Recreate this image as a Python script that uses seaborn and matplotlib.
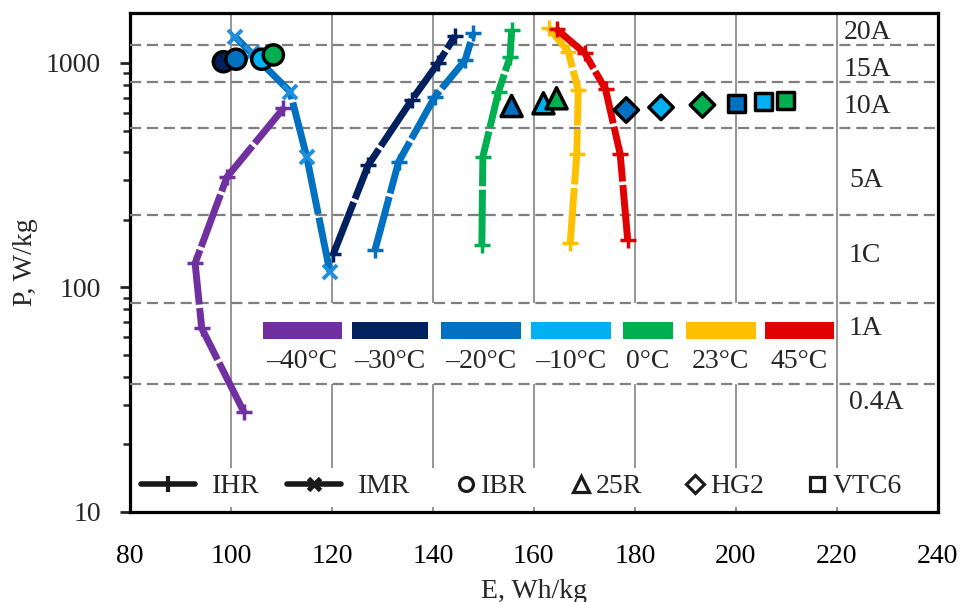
import matplotlib
matplotlib.use('Agg')
import matplotlib.pyplot as plt
from matplotlib.lines import Line2D
from matplotlib.patches import Rectangle
from matplotlib.ticker import NullFormatter
import pandas as pd
import seaborn as sns

# Temperatures and their colours.
temps = ['–40°C', '–30°C', '–20°C', '–10°C', '0°C', '23°C', '45°C']
temp_colors = ['#7030A0', '#002060', '#0070C0', '#00B0F0', '#00B050', '#FFC000', '#E00000']

# IHR cells: one rate curve per temperature (E in Wh/kg, P in W/kg).
ihr_temps = ['–40°C', '–30°C', '–20°C', '0°C', '23°C', '45°C']
ihr_e = [
    [102.6, 94.2, 92.9, 99.2, 110.4],
    [120.3, 127.2, 135.8, 141.1, 144.4],
    [128.5, 133.2, 140.4, 146.4, 148.0],
    [149.7, 149.9, 153.0, 155.3, 155.6],
    [167.2, 168.5, 168.8, 166.8, 163.0],
    [178.6, 177.1, 174.2, 170.1, 164.5],
]
ihr_p = [
    [27.7, 65.8, 128, 310, 628],
    [141, 351, 684, 1003, 1320],
    [146, 362, 707, 1031, 1358],
    [154, 382, 745, 1067, 1403],
    [157, 393, 758, 1123, 1430],
    [162, 393, 763, 1105, 1414],
]

# IMR cell, -20 C only.
imr_e = [119.6, 115.0, 111.7, 104.1, 100.8]
imr_p = [117, 382, 745, 1105, 1311]

# Single-point cells.
ibr_temps = ['–30°C', '–20°C', '–10°C', '0°C']
ibr_e = [98.5, 101.0, 106.1, 108.4]
ibr_p = [1013, 1039, 1039, 1086]

r25_temps = ['–20°C', '–10°C', '0°C']
r25_e = [155.6, 161.9, 164.5]
r25_p = [643, 661, 696]

hg2_temps = ['–20°C', '–10°C', '0°C']
hg2_e = [178.3, 185.2, 193.4]
hg2_p = [617, 634, 650]

vtc6_temps = ['–20°C', '–10°C', '0°C']
vtc6_e = [200.2, 205.5, 209.8]
vtc6_p = [661, 672, 679]

# Discharge rate bands.
rate_bounds = [1200, 825, 512, 210, 85, 37.2]
rate_labels = ['20A', '15A', '10A', '5A', '1C', '1A', '0.4A']
rate_label_p = [1361, 931, 638, 300, 139, 65.6, 30.8]

palette = dict(zip(temps, temp_colors))
FS = 20

sns.set_theme(style='white')
plt.rcParams['font.family'] = ['Liberation Serif', 'DejaVu Serif']

fig = plt.figure(figsize=(9.63, 6.02), dpi=100)
ax = fig.add_axes([0.135, 0.150, 0.8387, 0.8284])

dash = (0, (8, 0.5))

# IHR curves.
for t, e, p in zip(ihr_temps, ihr_e, ihr_p):
    df = pd.DataFrame({'E': e, 'P': p})
    sns.lineplot(data=df, x='E', y='P', sort=False, estimator=None, ax=ax,
                 color=palette[t], lw=5, linestyle=dash, marker='+',
                 ms=12, mew=2.5, mec=palette[t], zorder=4)

# IMR curve.
imr_df = pd.DataFrame({'E': imr_e, 'P': imr_p})
sns.lineplot(data=imr_df, x='E', y='P', sort=False, estimator=None, ax=ax,
             color='#0070C0', lw=5, linestyle=dash, marker='x',
             ms=10, mew=2.8, mec='#1F8FDC', zorder=4)

# Single points.
for t, e, p, m, s in [(ibr_temps, ibr_e, ibr_p, 'o', 210),
                      (r25_temps, r25_e, r25_p, '^', 230),
                      (hg2_temps, hg2_e, hg2_p, 'D', 155),
                      (vtc6_temps, vtc6_e, vtc6_p, 's', 155)]:
    sns.scatterplot(x=e, y=p, hue=t, palette=palette, marker=m, s=s,
                    edgecolor='black', linewidth=2.5, legend=False, ax=ax,
                    zorder=6)

ax.set_yscale('log')
ax.set_xlim(80, 240)
ax.set_ylim(10, 1670)

# Rate bands: dashed boundaries and labels on the right.
for b in rate_bounds:
    ax.axhline(b, color='#7f7f7f', lw=1.6, ls=(0, (5, 2.6)), zorder=3)
for lab, p in zip(rate_labels, rate_label_p):
    ax.text(221.3 if len(lab) == 3 else 222.4, p, lab, fontsize=FS,
            va='center', ha='left', zorder=3)

# Temperature colour key.
ax.add_patch(Rectangle((101.8, 37.2), 118.1, 85.1 - 37.2, facecolor='white',
                       edgecolor='none', zorder=1))
bar_edges = [(106.3, 121.9), (123.9, 139.1), (141.6, 157.4), (159.4, 175.3),
             (177.7, 187.6), (190.1, 204.0), (205.7, 219.5)]
for t, (x0, x1) in zip(temps, bar_edges):
    ax.add_patch(Rectangle((x0, 59.0), x1 - x0, 11.0, facecolor=palette[t],
                           edgecolor='none', zorder=2))
    ax.text((x0 + x1) / 2, 46.5, t, fontsize=FS, ha='center', va='center',
            zorder=2)

# Cell type key at the bottom.
ax.add_patch(Rectangle((0.005, 0.0094), 0.99, 0.0782, transform=ax.transAxes,
                       facecolor='white', edgecolor='none', zorder=1))
line_handles = [
    Line2D([], [], color='k', lw=4, marker='+', ms=12, mew=3),
    Line2D([], [], color='k', lw=4, marker='x', ms=9, mew=3.5),
]
leg1 = ax.legend(line_handles, ['IHR', 'IMR'], ncol=2, loc='center left',
                 bbox_to_anchor=(0.0136, 0.050), frameon=False, fontsize=FS,
                 handlelength=1.94, handletextpad=0.61, columnspacing=0.99,
                 borderpad=0, borderaxespad=0)
ax.add_artist(leg1)
mk_handles = [
    Line2D([], [], ls='none', marker=m, mfc='white', mec='k', mew=2.3, ms=s)
    for m, s in [('o', 10), ('^', 11), ('D', 9), ('s', 10)]
]
ax.legend(mk_handles, ['IBR', '25R', 'HG2', 'VTC6'], ncol=4,
          loc='center left', bbox_to_anchor=(0.4045, 0.050), frameon=False,
          fontsize=FS, handlelength=0.66, handletextpad=0.2,
          columnspacing=1.6, borderpad=0, borderaxespad=0)

# Axes styling.
ax.set_axisbelow(True)
ax.set_xticks(range(80, 241, 20))
ax.grid(axis='x', color='#8c8c8c', lw=1.3)
ax.grid(axis='y', visible=False, which='both')
ax.set_yticks([10, 100, 1000])
ax.set_yticklabels(['10', '100', '1000'])
ax.yaxis.set_minor_formatter(NullFormatter())
ax.tick_params(axis='x', direction='inout', length=10, width=2,
               labelsize=FS, pad=18, colors='black')
ax.tick_params(axis='y', which='major', direction='out', length=7, width=2,
               labelsize=FS, pad=14, left=True)
ax.tick_params(axis='y', which='minor', direction='out', length=5, width=1.8,
               left=True)
for s in ax.spines.values():
    s.set_color('black')
    s.set_linewidth(2.3)
    s.set_visible(True)

ax.set_xlabel('E, Wh/kg', fontsize=FS)
ax.set_ylabel('P, W/kg', fontsize=FS)
ax.xaxis.set_label_coords(0.5, -0.134)
ax.yaxis.set_label_coords(-0.114, 0.5)

fig.savefig('out.png', dpi=100)
